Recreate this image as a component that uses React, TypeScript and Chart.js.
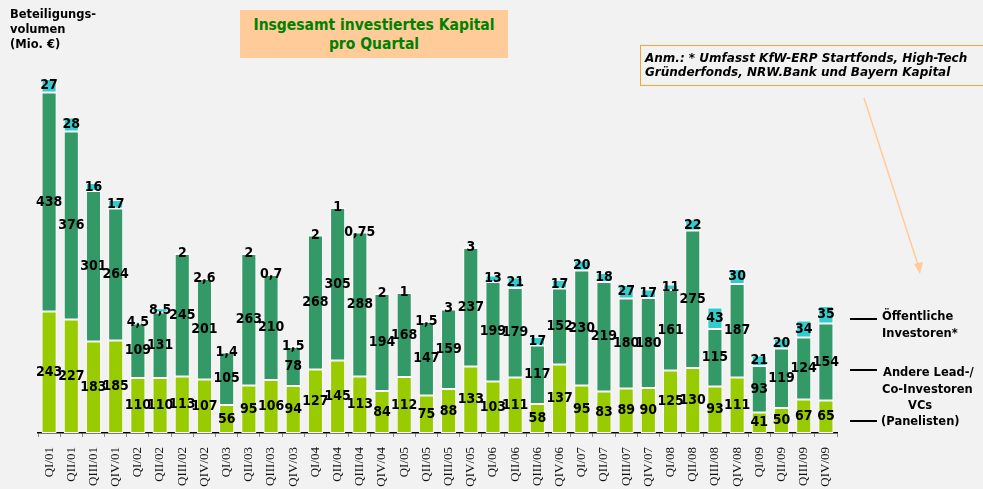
import React, { useEffect, useRef } from 'react';
import { Chart, registerables } from 'chart.js';

Chart.register(...registerables);

const quarters = [
  'QI/01', 'QII/01', 'QIII/01', 'QIV/01',
  'QI/02', 'QII/02', 'QIII/02', 'QIV/02',
  'QI/03', 'QII/03', 'QIII/03', 'QIV/03',
  'QI/04', 'QII/04', 'QIII/04', 'QIV/04',
  'QI/05', 'QII/05', 'QIII/05', 'QIV/05',
  'QI/06', 'QII/06', 'QIII/06', 'QIV/06',
  'QI/07', 'QII/07', 'QIII/07', 'QIV/07',
  'QI/08', 'QII/08', 'QIII/08', 'QIV/08',
  'QI/09', 'QII/09', 'QIII/09', 'QIV/09',
];

const vcs = [
  243, 227, 183, 185,
  110, 110, 113, 107,
  56, 95, 106, 94,
  127, 145, 113, 84,
  112, 75, 88, 133,
  103, 111, 58, 137,
  95, 83, 89, 90,
  125, 130, 93, 111,
  41, 50, 67, 65,
];

const andereInvestoren = [
  438, 376, 301, 264,
  109, 131, 245, 201,
  105, 263, 210, 78,
  268, 305, 288, 194,
  168, 147, 159, 237,
  199, 179, 117, 152,
  230, 219, 180, 180,
  161, 275, 115, 187,
  93, 119, 124, 154,
];

const oeffentlicheInvestoren = [
  27, 28, 16, 17,
  4.5, 8.5, 2, 2.6,
  1.4, 2, 0.7, 1.5,
  2, 1, 0.75, 2,
  1, 1.5, 3, 3,
  13, 21, 17, 17,
  20, 18, 27, 17,
  11, 22, 43, 30,
  21, 20, 34, 35,
];

const fmt = (v: number) => String(v).replace('.', ',');

const segmentLabels = {
  id: 'segmentLabels',
  afterDatasetsDraw(chart: any) {
    const ctx = chart.ctx;
    ctx.save();
    ctx.font = 'bold 14px "DejaVu Sans Condensed", "DejaVu Sans", sans-serif';
    ctx.fillStyle = '#000';
    ctx.textAlign = 'center';
    ctx.textBaseline = 'middle';
    chart.data.datasets.forEach((ds: any, i: number) => {
      const meta = chart.getDatasetMeta(i);
      meta.data.forEach((el: any, j: number) => {
        const p = el.getProps(['x', 'y', 'base'], true);
        ctx.fillText(fmt(ds.data[j]), p.x, (p.y + p.base) / 2);
      });
    });
    ctx.restore();
  },
};

export default function App() {
  const canvasRef = useRef<HTMLCanvasElement | null>(null);

  useEffect(() => {
    if (!canvasRef.current) return;
    const chart = new Chart(canvasRef.current, {
      type: 'bar',
      data: {
        labels: quarters,
        datasets: [
          {
            label: 'VCs (Panelisten)',
            data: vcs,
            backgroundColor: '#99CC00',
            borderColor: '#ffffff',
            borderWidth: 1,
            borderSkipped: false,
          },
          {
            label: 'Andere Lead-/Co-Investoren',
            data: andereInvestoren,
            backgroundColor: '#339966',
            borderColor: '#ffffff',
            borderWidth: 1,
            borderSkipped: false,
          },
          {
            label: 'Öffentliche Investoren*',
            data: oeffentlicheInvestoren,
            backgroundColor: '#33CCCC',
            borderColor: '#ffffff',
            borderWidth: 1,
            borderSkipped: false,
          },
        ],
      },
      options: {
        responsive: false,
        animation: false,
        datasets: { bar: { barPercentage: 0.68, categoryPercentage: 1 } },
        layout: { padding: { left: 38, right: 146, top: 53, bottom: 0 } },
        plugins: {
          legend: { display: false },
          title: { display: false },
          tooltip: { enabled: false },
        },
        scales: {
          x: {
            stacked: true,
            offset: true,
            grid: {
              display: true,
              drawOnChartArea: false,
              drawTicks: true,
              tickLength: 4,
              color: '#888',
              offset: true,
            },
            border: { display: true, color: '#000', width: 1.5 },
            ticks: {
              autoSkip: false,
              minRotation: 90,
              maxRotation: 90,
              padding: 10,
              color: '#111',
              font: { family: '"Liberation Serif", "Times New Roman", serif', size: 13 },
            },
            afterFit: (scale: any) => {
              scale.height = 56;
            },
          },
          y: {
            stacked: true,
            display: false,
            min: 0,
            max: 760,
          },
        },
      },
      plugins: [segmentLabels],
    } as any);
    return () => chart.destroy();
  }, []);

  const legendLine = (top: number) => (
    <div style={{ position: 'absolute', left: 850, top: top - 1, width: 27, height: 2, background: '#000' }} />
  );
  const legendText = (text: string, left: number, centerY: number) => (
    <div
      style={{
        position: 'absolute',
        left,
        top: centerY - 8,
        height: 16,
        lineHeight: '16px',
        fontSize: 11.5,
        fontWeight: 'bold',
        whiteSpace: 'nowrap',
        color: '#000',
      }}
    >
      {text}
    </div>
  );

  return (
    <div
      style={{
        position: 'fixed',
        left: 0,
        top: 0,
        width: 983,
        height: 489,
        overflow: 'hidden',
        background: '#F2F2F2',
        fontFamily: '"DejaVu Sans", Verdana, sans-serif',
      }}
    >
      <canvas
        ref={canvasRef}
        width={983}
        height={489}
        style={{ position: 'absolute', left: 0, top: 0, width: 983, height: 489 }}
      />
      <div
        style={{
          position: 'absolute',
          left: 10,
          top: 7,
          fontSize: 11.5,
          fontWeight: 'bold',
          lineHeight: '15px',
          color: '#000',
        }}
      >
        Beteiligungs-
        <br />
        volumen
        <br />
        (Mio. €)
      </div>
      <div
        style={{
          position: 'absolute',
          left: 240,
          top: 10,
          width: 268,
          height: 48,
          background: '#FFCC99',
          color: '#008000',
          fontFamily: '"DejaVu Sans Condensed", "DejaVu Sans", sans-serif',
          fontWeight: 'bold',
          fontSize: 15.5,
          lineHeight: '19px',
          textAlign: 'center',
          paddingTop: 6,
          boxSizing: 'border-box',
        }}
      >
        Insgesamt investiertes Kapital
        <br />
        pro Quartal
      </div>
      <div
        style={{
          position: 'absolute',
          left: 640,
          top: 45,
          width: 360,
          height: 41,
          border: '1.5px solid #F7A535',
          boxSizing: 'border-box',
          paddingLeft: 4,
          paddingTop: 5,
          fontSize: 12,
          fontWeight: 'bold',
          fontStyle: 'italic',
          lineHeight: '14px',
          color: '#000',
          whiteSpace: 'nowrap',
        }}
      >
        Anm.: * Umfasst KfW-ERP Startfonds, High-Tech
        <br />
        Gründerfonds, NRW.Bank und Bayern Kapital
      </div>
      <svg
        width={983}
        height={489}
        style={{ position: 'absolute', left: 0, top: 0, pointerEvents: 'none' }}
      >
        <line x1={864} y1={98} x2={919} y2={268} stroke="#FFCC99" strokeWidth={1.5} />
        <polygon points="920,274 914,264 923,262" fill="#FFCC99" />
      </svg>
      {legendLine(319)}
      {legendLine(370)}
      {legendLine(421)}
      {legendText('Öffentliche', 882, 316)}
      {legendText('Investoren*', 882, 333)}
      {legendText('Andere Lead-/', 883, 372)}
      {legendText('Co-Investoren', 882, 389)}
      {legendText('VCs', 908, 405)}
      {legendText('(Panelisten)', 881, 421)}
    </div>
  );
}
